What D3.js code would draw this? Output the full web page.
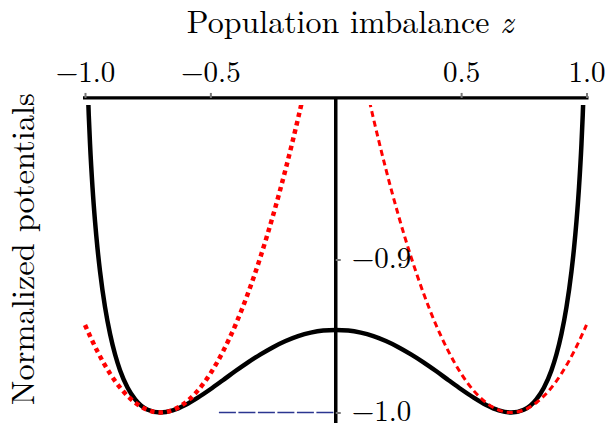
<!DOCTYPE html>
<html>
<head>
<meta charset="utf-8">
<script src="https://cdn.jsdelivr.net/npm/d3@7"></script>
<style>
  html, body { margin: 0; padding: 0; background: #fff; }
</style>
</head>
<body>
<div id="chart"></div>
<script>
// Double-well potential (black), harmonic approximations (red), level line (blue)

const blackZ = [-0.99, -0.985, -0.98, -0.97, -0.96, -0.95, -0.94, -0.92, -0.9, -0.88, -0.86, -0.83,
    -0.8, -0.75, -0.7, -0.65, -0.6, -0.55, -0.5, -0.45, -0.4, -0.35, -0.3, -0.25, -0.2, -0.15, -0.1, -0.05,
    0, 0.05, 0.1, 0.15, 0.2, 0.25, 0.3, 0.35, 0.4, 0.45, 0.5, 0.55, 0.6, 0.65, 0.7, 0.75, 0.8,
    0.83, 0.86, 0.88, 0.9, 0.92, 0.94, 0.95, 0.96, 0.97, 0.98, 0.985, 0.99];
const blackV = [-0.7824, -0.8057, -0.8242, -0.8530, -0.8751, -0.8930, -0.9078, -0.9312, -0.9487, -0.9621, -0.9725, -0.9838,
    -0.9914, -0.9982, -1.0000, -0.9986, -0.9951, -0.9903, -0.9848, -0.9789, -0.9729, -0.9672, -0.9620, -0.9573, -0.9533, -0.9501, -0.9478, -0.9464,
    -0.9460, -0.9464, -0.9478, -0.9501, -0.9533, -0.9573, -0.9620, -0.9672, -0.9729, -0.9789, -0.9848, -0.9903, -0.9951, -0.9986, -1.0000, -0.9982, -0.9914,
    -0.9838, -0.9725, -0.9621, -0.9487, -0.9312, -0.9078, -0.8930, -0.8751, -0.8530, -0.8242, -0.8057, -0.7824];

const redLeftZ = [-1.0, -0.95, -0.9, -0.85, -0.8, -0.75, -0.7, -0.65, -0.6, -0.55, -0.5, -0.45, -0.4, -0.35, -0.3, -0.25, -0.2, -0.15, -0.1];
const redLeftV = [-0.9428, -0.9602, -0.9746, -0.9857, -0.9936, -0.9984, -1.0, -0.9984, -0.9936, -0.9857, -0.9746, -0.9602, -0.9428, -0.9221, -0.8982, -0.8712, -0.8410, -0.8076, -0.7710];

const redRightZ = [0.1, 0.15, 0.2, 0.25, 0.3, 0.35, 0.4, 0.45, 0.5, 0.55, 0.6, 0.65, 0.7, 0.75, 0.8, 0.85, 0.9, 0.95, 1.0];
const redRightV = [-0.7710, -0.8076, -0.8410, -0.8712, -0.8982, -0.9221, -0.9428, -0.9602, -0.9746, -0.9857, -0.9936, -0.9984, -1.0, -0.9984, -0.9936, -0.9857, -0.9746, -0.9602, -0.9428];

const blueZ = [-0.466, 0];
const blueV = [-1.0, -1.0];

const xTicks = [-1.0, -0.5, 0.5, 1.0];
const yTicks = [-0.9, -1.0];

(function() {
    const W = 610, H = 423;
    const FONT = '"Latin Modern Roman", "Liberation Serif", serif';

    const svg = d3.select("#chart")
        .append("svg")
        .attr("width", W)
        .attr("height", H)
        .attr("font-family", FONT);

    const x = d3.scaleLinear().domain([-1, 1]).range([85, 586.5]);
    const y = d3.scaleLinear().domain([-1.0, -0.9]).range([412.5, 259.5]);
    const yTop = -0.7944, yBottom = -1.0068, yClip = -0.799;

    const fmt = d => (d < 0 ? "\u2212" : "") + d3.format(".1f")(Math.abs(d));

    // clip the curves at the top of the plot range
    svg.append("clipPath").attr("id", "clip")
        .append("rect")
        .attr("x", 0).attr("y", y(yClip))
        .attr("width", W).attr("height", H - y(yClip));

    const toPts = (zs, vs) => zs.map((z, i) => ({z: z, v: vs[i]}));
    const line = d3.line()
        .x(d => x(d.z))
        .y(d => y(d.v))
        .curve(d3.curveMonotoneX);

    const plot = svg.append("g").attr("clip-path", "url(#clip)");

    // blue level line
    plot.append("path")
        .datum(toPts(blueZ, blueV))
        .attr("fill", "none")
        .attr("stroke", "#2b3590")
        .attr("stroke-width", 1.6)
        .attr("stroke-dasharray", "17,2.5")
        .attr("d", line);

    // black potential
    plot.append("path")
        .datum(toPts(blackZ, blackV))
        .attr("fill", "none")
        .attr("stroke", "#000")
        .attr("stroke-width", 4.5)
        .attr("d", line);

    // red harmonic approximations
    plot.append("path")
        .datum(toPts(redLeftZ, redLeftV))
        .attr("fill", "none")
        .attr("stroke", "#ff0000")
        .attr("stroke-width", 4.5)
        .attr("stroke-dasharray", "4.5,4")
        .attr("d", line);

    plot.append("path")
        .datum(toPts(redRightZ, redRightV))
        .attr("fill", "none")
        .attr("stroke", "#ff0000")
        .attr("stroke-width", 3)
        .attr("stroke-dasharray", "6,4")
        .attr("d", line);

    // top axis
    const gx = svg.append("g")
        .attr("transform", `translate(0,${y(yTop)})`)
        .call(d3.axisTop(x).tickValues(xTicks).tickFormat(fmt)
            .tickSize(5).tickSizeOuter(0).tickPadding(11));
    gx.attr("font-family", FONT);
    gx.select(".domain").attr("stroke", "#000").attr("stroke-width", 3.2)
        .attr("d", `M${x(-1) - 2},0H${x(1) + 2}`);
    gx.selectAll(".tick line").attr("stroke", "#777").attr("stroke-width", 2);
    gx.selectAll(".tick text")
        .attr("font-size", 29)
        .attr("font-family", FONT)
        .attr("fill", "#000");

    // vertical axis at z = 0
    const gy = svg.append("g")
        .attr("transform", `translate(${x(0)},0)`)
        .call(d3.axisRight(y).tickValues(yTicks).tickFormat(fmt)
            .tickSize(5).tickSizeOuter(0).tickPadding(11));
    gy.attr("font-family", FONT);
    gy.select(".domain").attr("stroke", "#000").attr("stroke-width", 3.5)
        .attr("d", `M0,${y(yTop)}V${y(yBottom)}`);
    gy.selectAll(".tick line").attr("stroke", "#777").attr("stroke-width", 2);
    gy.selectAll(".tick text")
        .attr("font-size", 29)
        .attr("dy", "0.27em")
        .attr("font-family", FONT)
        .attr("fill", "#000");

    // axis labels
    const title = svg.append("text")
        .attr("x", 350)
        .attr("y", 33)
        .attr("text-anchor", "middle")
        .attr("font-family", FONT)
        .attr("font-size", 32);
    title.append("tspan").text("Population imbalance ");
    title.append("tspan").attr("font-style", "italic").text("z");

    svg.append("text")
        .attr("transform", "rotate(-90)")
        .attr("x", -249)
        .attr("y", 34)
        .attr("text-anchor", "middle")
        .attr("font-family", FONT)
        .attr("font-size", 32.5)
        .text("Normalized potentials");
})();
</script>
</body>
</html>
